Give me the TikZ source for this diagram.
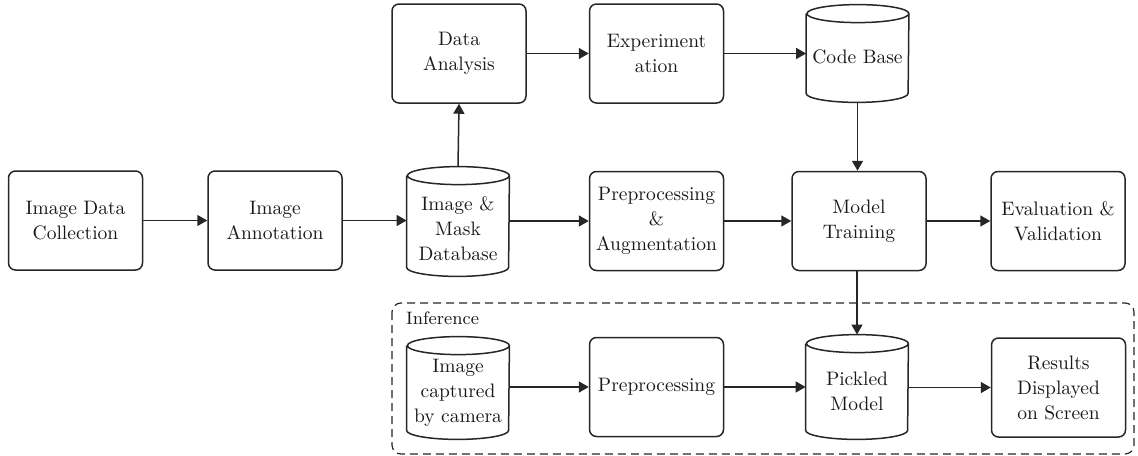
\documentclass[tikz,border=0pt]{standalone}
\usetikzlibrary{arrows.meta}
\begin{document}
\begin{tikzpicture}[x=0.5pt,y=0.5pt,
  every node/.style={text=black!90, font=\fontsize{9.75}{12.5}\selectfont, align=center},
  box/.style={draw=black!85, line width=0.75pt, rounded corners=3.5pt, minimum width=67pt, minimum height=49.5pt, inner sep=0pt},
  cylarea/.style={minimum width=51pt, inner sep=0pt},
  cylline/.style={draw=black!85, line width=0.75pt},
  arr/.style={draw=black!85, line width=0.75pt, -{Triangle[length=5pt,width=5.5pt]}},
  grp/.style={draw=black!85, line width=0.6pt, dash pattern=on 4pt off 2.5pt, rounded corners=4.5pt}
]
\useasboundingbox (0,0) rectangle (1138,-455);

% group box
\draw[grp] (392,-303) rectangle (1134,-454);
\node[anchor=west, font=\fontsize{9}{11}\selectfont] (inf) at (399,-318) {Inference};

% boxes
\node[box] (idc) at (75.5,-220.5) {Image Data\\Collection};
\node[box] (ia) at (275,-220.5) {Image\\Annotation};
\node[box] (pa) at (656.5,-221) {Preprocessing\\\&\\Augmentation};
\node[box] (mt) at (859,-221) {Model\\Training};
\node[box] (ev) at (1058,-221) {Evaluation \&\\Validation};
\node[box] (da) at (459,-53.5) {Data\\Analysis};
\node[box] (ex) at (656.5,-53.5) {Experiment\\ation};
\node[box] (pp) at (656.5,-387) {Preprocessing};
\node[box] (rd) at (1058.5,-387.5) {Results\\Displayed\\on Screen};

% cylinders
\node[cylarea, minimum height=54.5pt] (db) at (458,-221.5) {};
\node[cylarea, minimum height=48.5pt] (cb) at (857.5,-53.5) {};
\node[cylarea, minimum height=51pt] (cam) at (458,-388) {};
\node[cylarea, minimum height=52pt] (pm) at (857,-387) {};
\foreach \c in {db,cb,cam,pm}{
  \draw[cylline] ([yshift=-4.5pt]\c.north west) -- ([yshift=4.5pt]\c.south west)
    arc[start angle=180, end angle=360, x radius=25.5pt, y radius=4.5pt]
    -- ([yshift=-4.5pt]\c.north east)
    arc[start angle=0, end angle=360, x radius=25.5pt, y radius=4.5pt];
}
\node (dbt) at ([yshift=-3.5pt]db.center) {Image \&\\Mask\\Database};
\node (cbt) at ([yshift=-1.5pt]cb.center) {Code Base};
\node (camt) at ([yshift=-2.5pt]cam.center) {Image\\captured\\by camera};
\node (pmt) at ([yshift=-2pt]pm.center) {Pickled\\Model};

% arrows
\draw[arr] (idc.east) -- (ia.west);
\draw[arr] (ia.east) -- (ia.east -| db.west);
\draw[arr] (db.east |- pa.west) -- (pa.west);
\draw[arr] (pa.east) -- (mt.west);
\draw[arr] (mt.east) -- (ev.west);
\draw[arr] (db.north) -- (da.south);
\draw[arr] (da.east) -- (ex.west);
\draw[arr] (ex.east) -- (ex.east -| cb.west);
\draw[arr] (cb.south) -- (cb.south |- mt.north);
\draw[arr] (mt.south -| pm.north) -- (pm.north);
\draw[arr] (cam.east |- pp.west) -- (pp.west);
\draw[arr] (pp.east) -- (pp.east -| pm.west);
\draw[arr] (pm.east |- rd.west) -- (rd.west);
\end{tikzpicture}
\end{document}
